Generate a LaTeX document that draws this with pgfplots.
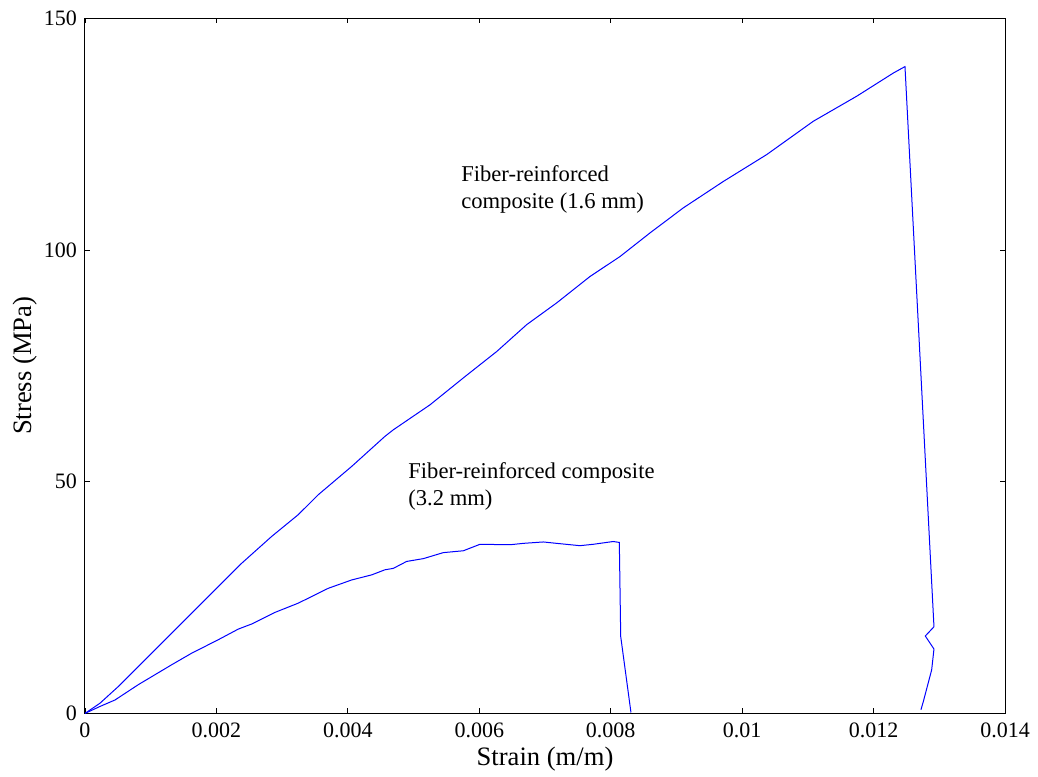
\documentclass[border=0pt]{standalone}
\usepackage{fontspec}
\setmainfont{Liberation Serif}
\usepackage{pgfplots}
\pgfplotsset{compat=1.18}
\begin{document}
\begin{tikzpicture}
\path[use as bounding box] (-42.5pt,-31.75pt) rectangle (476.5pt,356.7pt);
\begin{axis}[
  at={(0pt,0pt)}, anchor=south west,
  scale only axis, width=460pt, height=347.5pt,
  xmin=0, xmax=0.014, ymin=0, ymax=150,
  xtick={0,0.002,0.004,0.006,0.008,0.01,0.012,0.014},
  xticklabels={0,0.002,0.004,0.006,0.008,0.01,0.012,0.014},
  ytick={0,50,100,150},
  yticklabels={0,50,100,150},
  scaled x ticks=false,
  tick align=inside,
  major tick length=2.5pt,
  tick style={black, line width=0.4pt},
  axis line style={black, line width=0.5pt},
  ticklabel style={font=\fontsize{11}{13}\selectfont},
  xticklabel style={yshift=-1pt},
  yticklabel style={xshift=-0.5pt},
  xlabel={Strain (m/m)},
  ylabel={Stress (MPa)},
  label style={font=\fontsize{13.3}{15}\selectfont},
  xlabel style={at={(axis description cs:0.5,0)}, anchor=center, yshift=-23pt},
  ylabel style={at={(axis description cs:0,0.5)}, anchor=center, yshift=30pt},
]
\addplot[blue, line width=0.5pt] coordinates {
(0,0) (0.000228,2.2) (0.000507,5.8) (0.000811,10.1) (0.001319,17.3)
(0.001826,24.5) (0.002384,32.4) (0.002841,38.2) (0.003246,42.9)
(0.003550,47.2) (0.004058,53.3) (0.004565,59.8) (0.004691,61.2)
(0.005250,66.6) (0.005783,72.7) (0.006265,78.1) (0.006721,83.9)
(0.007178,88.6) (0.007685,94.3) (0.008141,98.6) (0.008598,103.7)
(0.009104,109.1) (0.009713,114.8) (0.010373,120.6) (0.011083,127.8)
(0.011743,133.2) (0.012300,138.2) (0.012478,139.6)
(0.012919,18.7) (0.012787,16.7) (0.012919,13.9) (0.012884,9.4)
(0.012756,2.5) (0.012721,0.8)
};
\addplot[blue, line width=0.5pt] coordinates {
(0,0) (0.000228,1.5) (0.000457,2.9) (0.000811,6.2) (0.001319,10.5)
(0.001624,13.0) (0.002028,15.9) (0.002333,18.2) (0.002537,19.3)
(0.002891,21.8) (0.003246,23.8) (0.003702,27.0) (0.004058,28.8)
(0.004363,29.9) (0.004565,31.0) (0.004691,31.3) (0.004895,32.8)
(0.005148,33.4) (0.005452,34.7) (0.005757,35.1) (0.006011,36.5)
(0.006468,36.4) (0.006670,36.7) (0.006974,37.0) (0.007178,36.7)
(0.007532,36.2) (0.007735,36.5) (0.008039,37.1) (0.008131,36.9)
(0.008152,16.6) (0.008308,0.2)
};
\node[anchor=north west, inner sep=0pt, align=left, font=\fontsize{11.3}{13.5}\selectfont]
  at (axis cs:0.00572,118.4) {Fiber-reinforced\\composite (1.6 mm)};
\node[anchor=north west, inner sep=0pt, align=left, font=\fontsize{11.3}{13.5}\selectfont]
  at (axis cs:0.004915,54.3) {Fiber-reinforced composite\\(3.2 mm)};
\end{axis}
\end{tikzpicture}
\end{document}
